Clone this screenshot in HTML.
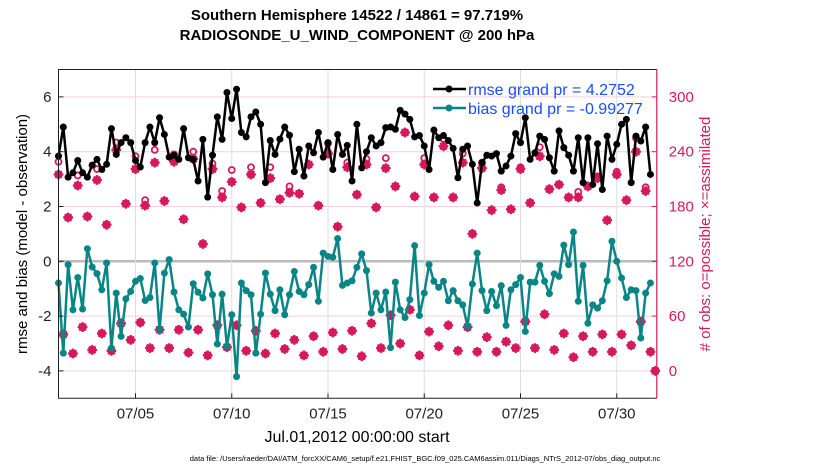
<!DOCTYPE html>
<html><head><meta charset="utf-8"><style>
body{margin:0;background:#fff;}
svg{display:block;font-family:"Liberation Sans",sans-serif;}
</style></head><body>
<svg id="chart" width="830" height="470" viewBox="0 0 830 470" xmlns="http://www.w3.org/2000/svg">
<text x="357" y="20" text-anchor="middle" font-size="15" font-weight="bold">Southern Hemisphere 14522 / 14861 = 97.719%</text>
<text x="357" y="40" text-anchor="middle" font-size="15" font-weight="bold">RADIOSONDE_U_WIND_COMPONENT @ 200 hPa</text>
<g id="grid"></g><g id="marks"></g><g id="axes"></g>
<text transform="translate(27,234) rotate(-90)" text-anchor="middle" font-size="15">rmse and bias (model - observation)</text>
<text transform="translate(710,234) rotate(-90)" text-anchor="middle" font-size="15" fill="#d6195a"># of obs: o=possible; ×=assimilated</text>
<text x="357" y="442" text-anchor="middle" font-size="16">Jul.01,2012 00:00:00 start</text>
<text x="425" y="461" text-anchor="middle" font-size="7.5">data file: /Users/raeder/DAI/ATM_forcXX/CAM6_setup/f.e21.FHIST_BGC.f09_025.CAM6assim.011/Diags_NTrS_2012-07/obs_diag_output.nc</text>
<g>
<line x1="433" y1="89" x2="466" y2="89" stroke="#000" stroke-width="2.5"/><circle cx="449" cy="89" r="3.5" fill="#000"/>
<text x="468" y="95" font-size="16" fill="#1a4cff">rmse grand pr = 4.2752</text>
<line x1="433" y1="108" x2="466" y2="108" stroke="#0a8585" stroke-width="2.5"/><circle cx="449" cy="108" r="3.5" fill="#0a8585"/>
<text x="468" y="114" font-size="16" fill="#1a4cff">bias grand pr = -0.99277</text>
</g>
</svg>
<script>
const rmse=[3.84,4.9,3.07,3.23,3.68,3.23,3.07,3.51,3.72,3.35,3.54,4.84,3.9,4.33,4.51,4.33,3.68,3.44,4.33,4.9,4.33,5.24,
4.63,3.8,3.87,3.72,4.84,3.78,3.72,2.93,4.45,2.34,3.87,5.27,4.45,6.16,5.21,6.28,4.7,4.54,5.27,5.45,5.0,
2.87,4.41,3.9,4.46,4.9,4.6,3.27,4.09,3.11,4.21,3.96,4.7,3.8,4.33,3.35,4.63,3.9,4.23,2.93,5.0,
3.41,4.0,4.51,4.21,4.33,4.88,4.9,4.82,5.51,5.37,5.18,4.54,4.59,4.21,3.35,4.79,4.51,4.59,4.41,4.12,3.05,
4.09,4.21,3.54,2.13,3.6,3.87,3.84,3.93,3.29,3.48,3.84,4.66,4.33,5.24,3.72,3.96,4.57,4.45,3.78,3.29,
4.76,4.15,3.87,3.29,4.51,2.87,4.51,2.8,4.29,2.62,4.57,3.72,4.27,5.0,5.18,2.87,4.57,4.39,4.9,3.17];
const bias=[-0.79,-3.35,-0.12,-1.77,-0.59,-1.74,0.46,-0.21,-0.45,-1.04,-0.06,-3.17,-1.16,-2.74,-1.37,-1.1,-0.73,-0.63,-1.43,-1.32,-0.06,-2.5,
-0.43,0.06,-1.12,-1.77,-1.93,-2.4,-0.82,-1.13,-1.34,-0.46,-1.22,-3.02,-1.2,-3.11,-1.95,-4.21,-0.79,-1.07,-1.22,-3.35,-1.93,
-0.43,-1.2,-1.8,-1.04,-1.95,-1.22,-0.37,-1.1,-1.22,-0.85,-0.22,-1.46,0.3,0.18,0.15,0.83,-0.88,-0.79,-0.71,-0.22,
0.27,-0.34,-1.89,-1.16,-1.77,-1.12,-3.15,-0.76,-1.77,-2.05,-1.4,0.57,-1.98,-1.16,-0.12,-0.73,-0.95,-0.73,-1.44,-1.07,-1.44,
-1.59,-2.38,-0.83,0.3,-1.07,-1.8,-1.1,-1.62,-0.89,-2.34,-1.04,-0.85,-0.59,-2.56,-0.76,-0.76,-0.15,-0.73,-1.18,-0.46,
-0.55,0.59,-0.12,1.07,-1.46,-0.15,-2.26,-1.59,-1.71,-1.44,-0.71,0.73,0,-0.61,-1.32,-1.04,-1.07,-2.8,-1.16,-0.79];
const possible=[229,40,168,19,214,48,169,23,221,41,160,22,250,52,183,34,235,53,187,25,242,45,
186,25,237,45,166,20,240,45,139,17,227,50,197,26,220,50,179,22,223,44,184,
19,223,41,188,24,202,34,194,17,226,38,181,21,249,42,158,24,228,44,193,
16,232,52,179,25,233,61,202,30,261,67,191,17,233,43,190,27,254,50,190,22,
238,48,150,21,228,37,176,21,201,32,177,25,223,54,184,25,245,62,199,23,
204,41,190,15,196,38,202,21,213,40,165,21,218,40,187,28,255,54,201,21,0];
const assimilated=[215,40,168,19,203,48,169,23,209,41,160,22,242,52,183,34,221,53,181,25,228,45,
186,25,229,45,166,20,232,45,139,17,221,50,190,26,207,50,179,22,215,44,184,
19,211,41,188,24,195,34,194,17,226,38,181,21,238,42,158,24,223,44,193,
16,226,52,179,25,222,61,202,30,261,67,191,17,226,43,190,27,246,50,190,22,
228,48,150,21,222,37,176,21,198,32,177,25,221,54,184,25,235,62,199,23,
204,41,190,15,190,38,202,21,211,40,165,21,215,40,187,28,240,54,197,21,0];
const xTicks=[4,9,14,19,24,29];
const xTickLabels=["07/05","07/10","07/15","07/20","07/25","07/30"];
const yTicks=[-4,-2,0,2,4,6];
const y2Ticks=[0,60,120,180,240,300];
const STEP=0.25;
const X0=58.5,X1=656.8,TMAX=31.08,Y0=398.3,Y1=69.5,VMIN=-5,VMAX=7;
const xs=t=>X0+(t/TMAX)*(X1-X0);
const ys=v=>Y0-(v-VMIN)/(VMAX-VMIN)*(Y0-Y1);
const ys2=n=>ys((n-120)/30);
const NS="http://www.w3.org/2000/svg";
function mk(tag,attrs,parent){const e=document.createElementNS(NS,tag);for(const k in attrs)e.setAttribute(k,attrs[k]);parent.appendChild(e);return e;}
const grid=document.getElementById('grid'),marks=document.getElementById('marks'),axes=document.getElementById('axes');
yTicks.forEach(v=>{const l=mk('line',{x1:X0,x2:X1,y1:ys(v),y2:ys(v),stroke:v===0?'#bbb':'#f3d0dc','stroke-width':v===0?2.5:1},grid);

});
xTicks.forEach(t=>{const l=mk('line',{x1:xs(t),x2:xs(t),y1:Y1,y2:Y0,stroke:'#ddd','stroke-width':1},grid);

});
possible.forEach((n,i)=>{const x=xs(i*STEP),y=ys2(n);const c=mk('circle',{cx:x,cy:y,r:3,fill:'none',stroke:'#d6195a','stroke-width':1.8},marks);

});
assimilated.forEach((n,i)=>{const x=xs(i*STEP),y=ys2(n);const g=mk('g',{stroke:'#d6195a','stroke-width':2.8,'stroke-linecap':'round'},marks);


const r=3.6;mk('line',{x1:x-r,y1:y,x2:x+r,y2:y},g);mk('line',{x1:x,y1:y-r,x2:x,y2:y+r},g);
mk('line',{x1:x-2.4,y1:y-2.4,x2:x+2.4,y2:y+2.4},g);mk('line',{x1:x-2.4,y1:y+2.4,x2:x+2.4,y2:y-2.4},g);});
function series(arr,color,name){const p=mk('polyline',{points:arr.map((v,i)=>xs(i*STEP)+','+ys(v)).join(' '),fill:'none',stroke:color,'stroke-width':2.5,'stroke-linejoin':'round'},marks);


arr.forEach((v,i)=>{const c=mk('circle',{cx:xs(i*STEP),cy:ys(v),r:3.5,fill:color},marks);

});}
series(bias,'#0a8585','bias');
series(rmse,'#000','rmse');
const fr=mk('path',{d:`M${X1},${Y1} L${X0},${Y1} L${X0},${Y0} L${X1},${Y0}`,fill:'none',stroke:'#222','stroke-width':1},axes);


const ra=mk('line',{x1:X1,x2:X1,y1:Y1,y2:Y0,stroke:'#d6195a','stroke-width':1.2},axes);


yTicks.forEach(v=>{mk('line',{x1:X0,x2:X0+5,y1:ys(v),y2:ys(v),stroke:'#222'},axes);
const t=mk('text',{x:X0-7,y:ys(v)+5,'text-anchor':'end','font-size':15,fill:'#222'},axes);t.textContent=v;

});
y2Ticks.forEach(n=>{mk('line',{x1:X1-5,x2:X1,y1:ys2(n),y2:ys2(n),stroke:'#d6195a'},axes);
const t=mk('text',{x:X1+12,y:ys2(n)+5,'font-size':15,fill:'#d6195a'},axes);t.textContent=n;

});
xTicks.forEach((tv,i)=>{mk('line',{x1:xs(tv),x2:xs(tv),y1:Y0,y2:Y0-5,stroke:'#222'},axes);
const t=mk('text',{x:xs(tv),y:Y0+20,'text-anchor':'middle','font-size':15,fill:'#222'},axes);t.textContent=xTickLabels[i];

});
</script>
</body></html>
